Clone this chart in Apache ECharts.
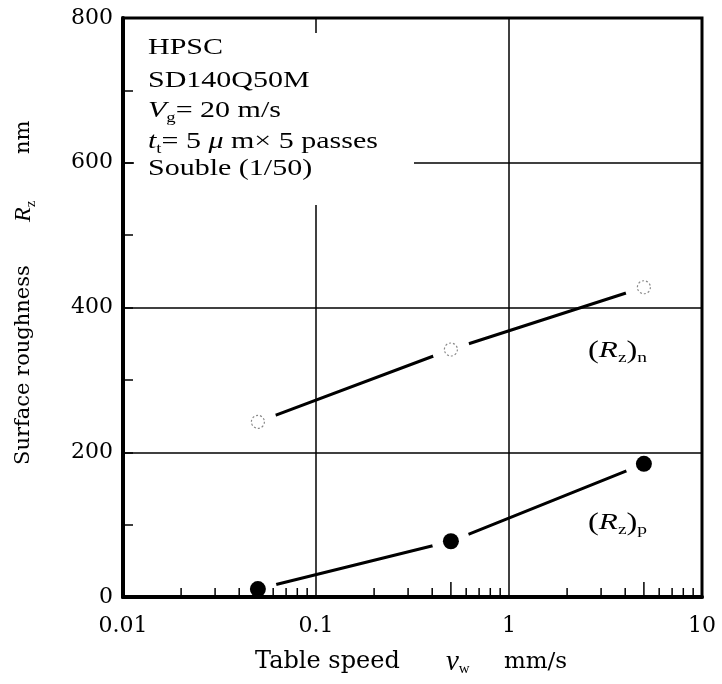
<!DOCTYPE html>
<html><head><meta charset="utf-8">
<script src="https://cdn.jsdelivr.net/npm/echarts@6/dist/echarts.min.js"></script>
<style>html,body{margin:0;padding:0;background:#fff}#c{width:722px;height:684px}</style>
</head><body><div id="c"></div>
<script>
// ---- data ----
const speeds = [0.05, 0.5, 5];
const rzN = [242, 342, 428];
const rzP = [11, 77, 184];
const xTickLabels = ['0.01', '0.1', '1', '10'];
const minorTicks = [0.02,0.03,0.04,0.06,0.07,0.08,0.09,0.2,0.3,0.4,0.6,0.7,0.8,0.9,2,3,4,6,7,8,9];
const midTicks = [0.05, 0.5, 5];
const infoLines = ['HPSC', 'SD140Q50M', '{i|V}{s|g}= 20 m/s', '{i|t}{s|t}= 5 {i|\u03bc} m\u00d7 5 passes', 'Souble (1/50)'];
const infoY = [48, 81, 111, 142, 169];

const nPts = speeds.map((s, i) => [s, rzN[i]]);
const pPts = speeds.map((s, i) => [s, rzP[i]]);

const serif = '"Liberation Serif", "Times New Roman", serif';
const dserif = '"DejaVu Serif", serif';
const richBase = {
  i: {fontFamily: serif, fontStyle: 'italic', fontSize: 24, lineHeight: 30, fill: '#000', color: '#000'},
  iv: {fontFamily: serif, fontStyle: 'italic', fontSize: 29, lineHeight: 30, fill: '#000', color: '#000'},
  s: {fontFamily: serif, fontSize: 15, lineHeight: 14, verticalAlign: 'bottom', fill: '#000', color: '#000'}
};

const graphics = [
  {type: 'rect', shape: {x: 134, y: 33, width: 280, height: 172}, style: {fill: '#fff'}, z: 10, silent: true}
];
infoLines.forEach((t, k) => {
  graphics.push({type: 'text', x: 148, y: infoY[k], scaleX: 1.25, z: 11,
    style: {text: t, fontFamily: serif, fontSize: 24, lineHeight: 30, fill: '#000', align: 'left', verticalAlign: 'middle', rich: richBase}});
});
// series labels
graphics.push({type: 'text', x: 588, y: 351, scaleX: 1.3, z: 11,
  style: {text: '({i|R}{s|z}){s|n}', fontFamily: serif, fontSize: 25, lineHeight: 30, fill: '#000', align: 'left', verticalAlign: 'middle', rich: richBase}});
graphics.push({type: 'text', x: 588, y: 523, scaleX: 1.3, z: 11,
  style: {text: '({i|R}{s|z}){s|p}', fontFamily: serif, fontSize: 25, lineHeight: 30, fill: '#000', align: 'left', verticalAlign: 'middle', rich: richBase}});
// y axis title
graphics.push({type: 'text', x: 24, y: 465, rotation: Math.PI / 2, z: 11,
  style: {text: 'Surface roughness', fontFamily: dserif, fontSize: 21, fill: '#000', align: 'left', verticalAlign: 'middle'}});
graphics.push({type: 'text', x: 24, y: 222, rotation: Math.PI / 2, z: 11,
  style: {text: '{i|R}{s|z}', fontFamily: serif, fontSize: 24, lineHeight: 30, fill: '#000', align: 'left', verticalAlign: 'middle', rich: richBase}});
graphics.push({type: 'text', x: 24, y: 154, rotation: Math.PI / 2, z: 11,
  style: {text: 'nm', fontFamily: dserif, fontSize: 21, fill: '#000', align: 'left', verticalAlign: 'middle'}});
// x axis title
graphics.push({type: 'text', x: 255, y: 662, z: 11,
  style: {text: 'Table speed', fontFamily: dserif, fontSize: 24, fill: '#000', align: 'left', verticalAlign: 'middle'}});
graphics.push({type: 'text', x: 446, y: 662, z: 11,
  style: {text: '{iv|v}{s|w}', fontFamily: serif, fontSize: 24, lineHeight: 30, fill: '#000', align: 'left', verticalAlign: 'middle', rich: richBase}});
graphics.push({type: 'text', x: 504, y: 662, z: 11,
  style: {text: 'mm/s', fontFamily: dserif, fontSize: 23, fill: '#000', align: 'left', verticalAlign: 'middle'}});

const chart = echarts.init(document.getElementById('c'), null, {renderer: 'canvas'});
chart.setOption({
  animation: false,
  backgroundColor: '#fff',
  grid: {left: 123, right: 20, top: 18, bottom: 87, show: true, borderColor: '#000', borderWidth: 3, backgroundColor: 'transparent', z: 3},
  xAxis: {
    type: 'log', logBase: 10, min: 0.01, max: 10, z: 3,
    axisLine: {show: true, lineStyle: {color: '#000', width: 4}},
    axisTick: {show: false},
    splitLine: {show: true, lineStyle: {color: '#000', width: 1.5}},
    axisLabel: {color: '#000', fontFamily: dserif, fontSize: 22, margin: 18,
      formatter: v => xTickLabels[Math.round(Math.log10(v)) + 2]}
  },
  yAxis: {
    type: 'value', min: 0, max: 800, interval: 200, z: 3,
    axisLine: {show: true, lineStyle: {color: '#000', width: 4}},
    axisTick: {show: true, inside: true, length: 10, lineStyle: {color: '#000', width: 1.5}},
    minorTick: {show: true, splitNumber: 2, length: 10, lineStyle: {color: '#000', width: 1.5}},
    splitLine: {show: true, lineStyle: {color: '#000', width: 1.5}},
    axisLabel: {color: '#000', fontFamily: dserif, fontSize: 22, margin: 10}
  },
  graphic: graphics,
  series: [
    {type: 'line', data: nPts, symbol: 'none', lineStyle: {color: '#000', width: 3}, z: 1, silent: true},
    {type: 'line', data: pPts, symbol: 'none', lineStyle: {color: '#000', width: 3}, z: 1, silent: true},
    {type: 'scatter', data: nPts.concat(pPts), symbol: 'circle', symbolSize: 38, itemStyle: {color: '#fff', opacity: 1}, z: 2, silent: true},
    {type: 'scatter', data: nPts, symbol: 'circle', symbolSize: 13,
      itemStyle: {color: '#fff', opacity: 1, borderColor: '#888', borderWidth: 1.2, borderType: [2, 2]}, z: 4, silent: true},
    {type: 'scatter', data: pPts, symbol: 'circle', symbolSize: 16, itemStyle: {color: '#000', opacity: 1}, z: 4, silent: true},
    {type: 'scatter', data: minorTicks.map(v => [v, 0]), symbol: 'rect', symbolSize: [1.5, 9], symbolOffset: [0, -4.5],
      itemStyle: {color: '#000', opacity: 1}, z: 4, silent: true, clip: false},
    {type: 'scatter', data: midTicks.map(v => [v, 0]), symbol: 'rect', symbolSize: [1.5, 15], symbolOffset: [0, -7.5],
      itemStyle: {color: '#000', opacity: 1}, z: 4, silent: true, clip: false}
  ]
});
</script>
</body></html>
